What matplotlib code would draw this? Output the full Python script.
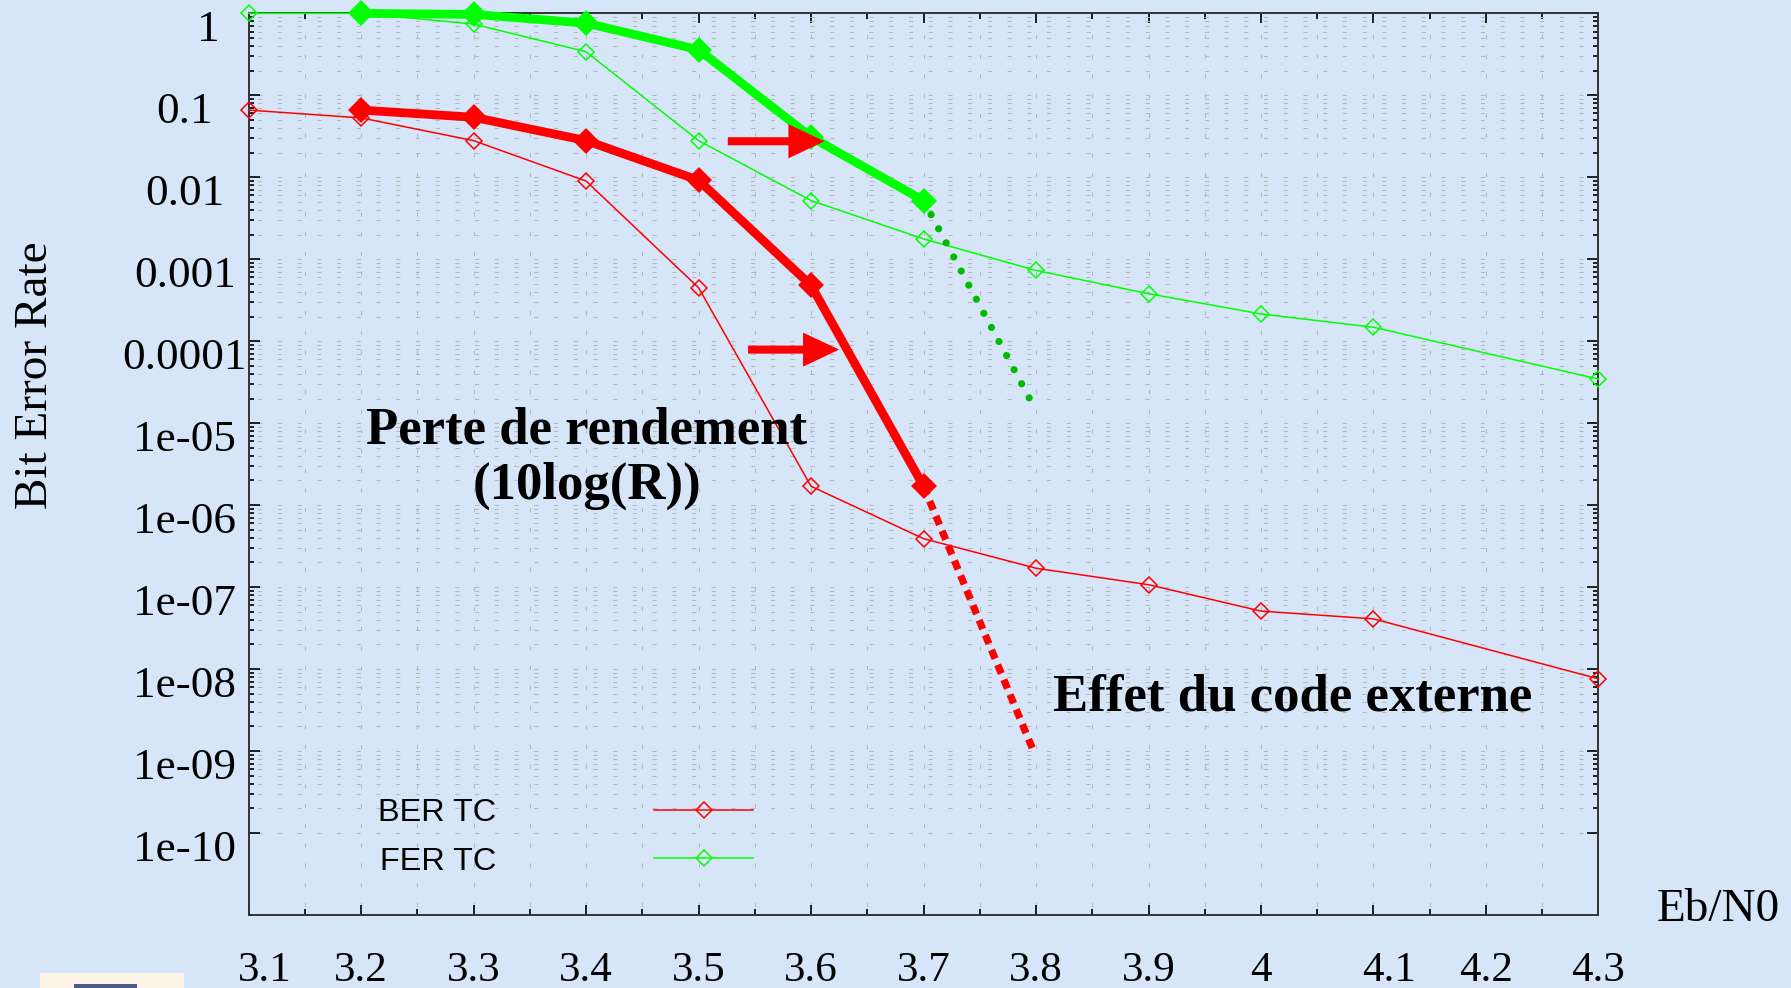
import matplotlib
matplotlib.use('Agg')
import matplotlib.pyplot as plt
from matplotlib.patches import FancyArrowPatch, Rectangle
from matplotlib.transforms import ScaledTranslation

plt.rcParams['lines.scale_dashes'] = False

# Eb/N0 points of the simulated curves
ebn0 = [3.1, 3.2, 3.3, 3.4, 3.5, 3.6, 3.7, 3.8, 3.9, 4.0, 4.1, 4.3]
ber_tc = [0.066, 0.053, 0.028, 0.009, 4.5e-4, 1.7e-6, 3.9e-7, 1.7e-7, 1.07e-7, 5.1e-8, 4.1e-8, 7.6e-9]
fer_tc = [1.0, 1.0, 0.74, 0.34, 0.028, 0.0052, 0.00177, 7.3e-4, 3.8e-4, 2.15e-4, 1.48e-4, 3.45e-5]

# curves shifted by the rate loss
ebn0_shift = [3.2, 3.3, 3.4, 3.5, 3.6, 3.7]
ber_shift = [0.066, 0.054, 0.028, 0.0092, 4.8e-4, 1.7e-6]
fer_shift = [1.0, 0.97, 0.76, 0.36, 0.031, 0.0052]

# effect of the outer code (extrapolated)
ebn0_ext = [3.7, 3.798]
ber_ext = [1.7e-6, 9.8e-10]
fer_ext = [0.0052, 1.6e-5]

xticks = [3.1, 3.2, 3.3, 3.4, 3.5, 3.6, 3.7, 3.8, 3.9, 4.0, 4.1, 4.2, 4.3]
xticklabels = ['3.1', '3.2', '3.3', '3.4', '3.5', '3.6', '3.7', '3.8', '3.9', '4', '4.1', '4.2', '4.3']
yticks = [1, 0.1, 0.01, 0.001, 1e-4, 1e-5, 1e-6, 1e-7, 1e-8, 1e-9, 1e-10]
yticklabels = ['1', '0.1', '0.01', '0.001', '0.0001', '1e-05', '1e-06', '1e-07', '1e-08', '1e-09', '1e-10']

bg = '#d6e6f8'
serif = 'Liberation Serif'
sans = 'Liberation Sans'

fig = plt.figure(figsize=(17.91, 9.88), dpi=100, facecolor=bg)
ax = fig.add_axes([0.1388, 0.0739, 0.7537, 0.9126])
ax.set_facecolor(bg)

ax.set_yscale('log')
ax.set_xlim(3.1, 4.3)
ax.set_ylim(1e-11, 1)

ax.set_xticks(xticks, xticklabels)
ax.set_xticks([x + 0.05 for x in xticks[:-1]], minor=True)
ax.set_yticks(yticks, yticklabels)
yminor = [k * 10.0 ** d for d in range(-10, 0) for k in range(2, 10)]
ax.set_yticks(yminor, minor=True)
ax.yaxis.set_minor_formatter(plt.NullFormatter())

ax.tick_params(axis='x', which='major', direction='in', length=7, width=1.2,
               top=True, pad=26, labelsize=31, labelfontfamily=serif)
ax.tick_params(axis='x', which='minor', direction='in', length=4.5, width=1.2, top=True)
ax.tick_params(axis='y', which='major', direction='in', length=8, width=1.2,
               right=True, pad=46, labelsize=32.5, labelfontfamily=serif)
ax.tick_params(axis='y', which='minor', direction='in', length=3.8, width=1.2, right=True)

for lab in ax.get_yticklabels():
    lab.set_ha('center')
    dx = 0.24 if lab.get_text() == '1' else 0
    lab.set_transform(lab.get_transform() + ScaledTranslation(dx, -0.125, fig.dpi_scale_trans))
for lab in ax.get_xticklabels():
    if lab.get_text() in ('3.1', '4.1'):
        lab.set_transform(lab.get_transform() + ScaledTranslation(0.16, 0, fig.dpi_scale_trans))

for s in ax.spines.values():
    s.set_linewidth(1.4)
    s.set_color('#333333')

ax.grid(True, which='both', axis='both', color='#b4b8bc', linewidth=0.75,
        linestyle=(8, (3, 11.2)))

# thin curves
ax.plot(ebn0, ber_tc, color='#ff0000', lw=1.1, marker='D', ms=8, mfc='none',
        mec='#ff0000', mew=1.1, clip_on=False, zorder=3, label='BER TC')
ax.plot(ebn0, fer_tc, color='#00ff00', lw=1.1, marker='D', ms=8, mfc='none',
        mec='#00ff00', mew=1.1, clip_on=False, zorder=3, label='FER TC')

# extrapolations
ax.plot(ebn0_ext, ber_ext, color='#ff0000', lw=5.2, linestyle=(0, (6.8, 4.8)),
        dash_capstyle='butt', clip_on=False, zorder=4)
ax.plot(ebn0_ext, fer_ext, color='#00bb00', lw=5.2, linestyle=(0, (0.01, 11.5)),
        dash_capstyle='round', clip_on=False, zorder=4)

# thick shifted curves
ax.plot(ebn0_shift, ber_shift, color='#ff0000', lw=6.3, marker='D', ms=10,
        mew=3, solid_joinstyle='round', clip_on=False, zorder=5)
ax.plot(ebn0_shift, fer_shift, color='#00ff00', lw=6.3, marker='D', ms=10,
        mew=3, solid_joinstyle='round', clip_on=False, zorder=5)

# red arrows
for tail, tip in [((3.526, 0.0275), (3.612, 0.0275)), ((3.544, 7.9e-5), (3.625, 7.9e-5))]:
    arr = FancyArrowPatch(tail, tip, arrowstyle='simple,head_length=2.6,head_width=2.45,tail_width=0.58',
                          mutation_scale=10, color='#ff0000', lw=0, shrinkA=0, shrinkB=0,
                          zorder=6, clip_on=False)
    ax.add_patch(arr)

leg = ax.legend(loc='upper left', bbox_to_anchor=(378 / 1791, 1 - 798 / 988),
                bbox_transform=fig.transFigure, frameon=False, markerfirst=False,
                numpoints=1, handlelength=3.08, handletextpad=4.87, labelspacing=0.58,
                borderpad=0, borderaxespad=0, prop={'family': sans, 'size': 23.3})

fig.text(587 / 1791, 1 - 458 / 988, 'Perte de rendement\n(10log(R))', ha='center', va='center',
         fontsize=38, fontweight='bold', family=serif, linespacing=1.2)
fig.text(1293 / 1791, 1 - 697 / 988, 'Effet du code externe', ha='center', va='center',
         fontsize=38, fontweight='bold', family=serif)
fig.text(36 / 1791, 1 - 375 / 988, 'Bit Error Rate', rotation=90, ha='center', va='center',
         fontsize=34, family=serif)
fig.text(1718 / 1791, 1 - 910 / 988, 'Eb/N0', ha='center', va='center',
         fontsize=34, family=serif)

# small logo in the bottom-left corner
fig.add_artist(Rectangle((40 / 1791, 0), 144 / 1791, 15 / 988, transform=fig.transFigure,
                         facecolor='#fdf3e6', edgecolor='none'))
fig.add_artist(Rectangle((74 / 1791, 0), 63 / 1791, 4 / 988, transform=fig.transFigure,
                         facecolor='#4d5b8c', edgecolor='none'))

fig.savefig('out.png', dpi=100, facecolor=fig.get_facecolor())
